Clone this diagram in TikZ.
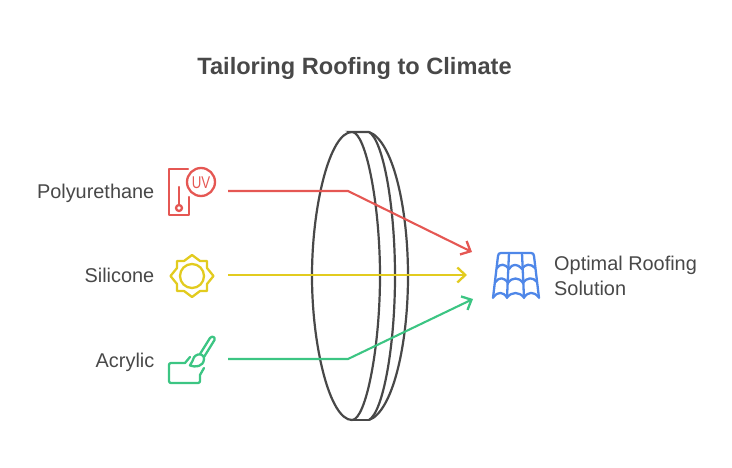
\documentclass[tikz,border=0pt]{standalone}
\usepackage{fontspec}
\setmainfont{Liberation Sans}
\definecolor{ink}{HTML}{484848}
\definecolor{cred}{HTML}{E55753}
\definecolor{cyel}{HTML}{E2CB1F}
\definecolor{cgrn}{HTML}{3CC583}
\definecolor{cblu}{HTML}{4F87E8}
\usetikzlibrary{arrows.meta}
\tikzset{
 lab/.style={text=ink,font=\fontsize{19.9}{24}\selectfont,inner sep=0pt},
 ttl/.style={text=ink,font=\fontsize{23.6}{28}\selectfont\bfseries,inner sep=0pt},
 conn/.style={line width=2.1pt,-{Straight Barb[length=8pt,width=15pt,line width=2.3pt]}},
 lens/.style={draw=ink,line width=2.2pt},
 ico/.style={line width=2.3pt,line cap=round,line join=round},
}
\begin{document}
\begin{tikzpicture}[x=1pt,y=-1pt]
\useasboundingbox (0,0) rectangle (732,468);
\node[ttl,anchor=base] (title) at (354.5,75) {Tailoring Roofing to Climate};
% lens
\draw[lens] (352,132) .. controls (330,132) and (312,205) .. (312,276) .. controls (312,347) and (330,420) .. (352,420) .. controls (366,420) and (380,347) .. (380,276) .. controls (380,205) and (366,132) .. (352,132) -- (369,132);
\draw[lens] (352,420) -- (369,420);
\draw[lens] (369,132) .. controls (383,140) and (395,205) .. (395,276) .. controls (395,347) and (383,412) .. (369,420);
\draw[lens] (369,132) .. controls (392,140) and (408,205) .. (408,276) .. controls (408,347) and (392,412) .. (369,420);
% connector ends
\coordinate (r0) at (228,191); \coordinate (rb) at (348,191); \coordinate (r1) at (472,252);
\coordinate (y0) at (228,275); \coordinate (y1) at (467,275);
\coordinate (g0) at (228,359); \coordinate (gb) at (348,359); \coordinate (g1) at (473,299);
\draw[conn,cred] (r0) -- (rb) -- (r1);
\draw[conn,cyel] (y0) -- (y1);
\draw[conn,cgrn] (g0) -- (gb) -- (g1);
% labels
\node[lab,anchor=base east] (poly) at (154.5,199) {Polyurethane};
\node[lab,anchor=base east] (sili) at (154.5,283) {Silicone};
\node[lab,anchor=base east] (acry) at (154.5,367) {Acrylic};
\node[lab,anchor=base west] (opt) at (554,271) {Optimal Roofing};
\node[lab,anchor=base west] (sol) at (554,295) {Solution};
% UV icon
\begin{scope}[ico,cred]
\draw (188,169) -- (169,169) -- (169,215) -- (189,215) -- (189,197);
\draw (201,182) circle (14);
\draw (179,187) -- (179,205);
\draw (179,208) circle (3);
\node[text=cred,inner sep=0pt,font=\fontsize{17}{17}\selectfont] (uv) at (201,182.5) {\scalebox{.78}[1]{UV}};
\end{scope}
% sun icon
\begin{scope}[ico,cyel,shift={(192,276)}]
\draw (0,-21) -- (8,-15) -- (15,-15) -- (15,-8) -- (21.5,0) -- (15,8) -- (15,15) -- (8,15) -- (0,21) -- (-8,15) -- (-15,15) -- (-15,8) -- (-21.5,0) -- (-15,-8) -- (-15,-15) -- (-8,-15) -- cycle;
\draw (0,0) circle (12);
\end{scope}
% brush icon
\begin{scope}[ico,cgrn]
\draw (190,357) -- (185,363) -- (171,363) .. controls (169.5,363) and (169,364) .. (169,365) -- (169,381) .. controls (169,382.5) and (170,383) .. (171,383) -- (198,383) .. controls (199.5,383) and (200,382) .. (200,381) -- (200,375) -- (204,368);
\draw (200,354) -- (210,338) .. controls (212,335.5) and (215.5,337) .. (214.5,340) -- (204,357);
\draw (198,354.5) .. controls (194,355.5) and (193,359) .. (192.5,361) .. controls (192,363) and (190,364) .. (190,365.5) .. controls (195,367.5) and (203.5,367) .. (204,359) .. controls (204.5,356) and (201,353.5) .. (198,354.5) -- cycle;
\end{scope}
% roof icon
\begin{scope}[ico,cblu]
\draw (493,298) -- (498,256) .. controls (498.3,254) and (499,253) .. (501,253) -- (531,253) .. controls (533,253) and (533.7,254) .. (534,256) -- (539,298);
\draw (509,253) -- (507,298);
\draw (522,253) -- (524,298);
\draw (497,268) .. controls (500,263.5) and (505,263.5) .. (509,269) .. controls (512,263.5) and (518,263.5) .. (522,269) .. controls (525,263.5) and (531,263.5) .. (535,268);
\draw (495.5,282) .. controls (499,277) and (504,277) .. (508,283) .. controls (512,277) and (519,277) .. (523,283) .. controls (527,277) and (533,277) .. (537,282);
\draw (493.5,297) .. controls (498,291.5) and (503,291.5) .. (507,297.5) .. controls (512,291.5) and (519,291.5) .. (524,297.5) .. controls (528,291.5) and (534,291.5) .. (538.5,297);
\end{scope}
\end{tikzpicture}
\end{document}
